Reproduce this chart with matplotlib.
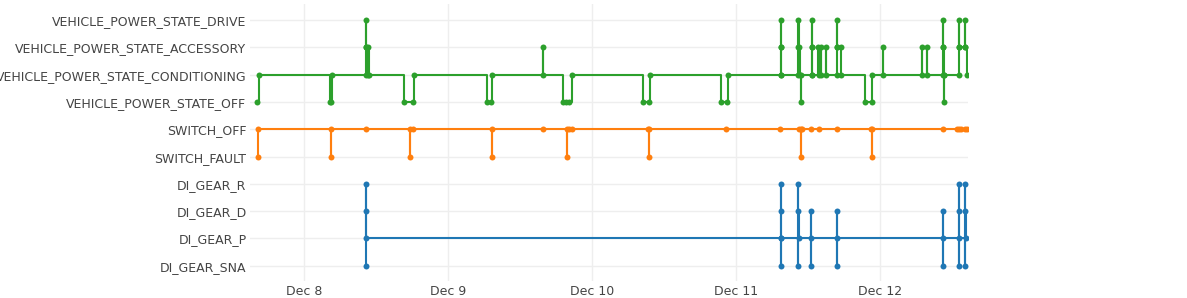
import matplotlib
matplotlib.use("Agg")
import matplotlib.pyplot as plt
import matplotlib.dates as mdates
import pandas as pd

# categories from bottom to top of the y axis
categories = ["DI_GEAR_SNA", "DI_GEAR_P", "DI_GEAR_D", "DI_GEAR_R",
              "SWITCH_FAULT", "SWITCH_OFF",
              "VEHICLE_POWER_STATE_OFF", "VEHICLE_POWER_STATE_CONDITIONING",
              "VEHICLE_POWER_STATE_ACCESSORY", "VEHICLE_POWER_STATE_DRIVE"]

# gear series
gear_times = ["12-08 10:23", "12-08 10:24", "12-08 10:25", "12-08 10:26",
              "12-11 07:30", "12-11 07:31", "12-11 07:32", "12-11 07:33", "12-11 07:34",
              "12-11 10:26", "12-11 10:27", "12-11 10:28", "12-11 10:29",
              "12-11 12:36", "12-11 12:37", "12-11 12:38",
              "12-11 16:50", "12-11 16:51", "12-11 16:52",
              "12-12 10:36", "12-12 10:37", "12-12 10:38",
              "12-12 13:10", "12-12 13:11", "12-12 13:12", "12-12 13:13",
              "12-12 14:16", "12-12 14:17", "12-12 14:18", "12-12 14:19"]
gear_states = ["SNA", "R", "D", "P",
               "P", "SNA", "R", "D", "P",
               "SNA", "R", "D", "P",
               "SNA", "D", "P",
               "SNA", "D", "P",
               "SNA", "D", "P",
               "SNA", "R", "D", "P",
               "SNA", "R", "D", "P"]

# switch series
switch_times = ["12-07 16:20", "12-07 16:21",
                "12-08 04:30", "12-08 04:31",
                "12-08 10:23",
                "12-08 17:43", "12-08 17:44", "12-08 18:10",
                "12-09 07:20", "12-09 07:21",
                "12-09 15:50",
                "12-09 19:50", "12-09 19:51", "12-09 20:15", "12-09 20:40",
                "12-10 09:20", "12-10 09:33", "12-10 09:34",
                "12-10 22:23",
                "12-11 07:26",
                "12-11 10:36", "12-11 10:56", "12-11 10:57", "12-11 11:06",
                "12-11 12:36", "12-11 13:56", "12-11 16:50",
                "12-11 22:30", "12-11 22:43", "12-11 22:44",
                "12-12 10:36",
                "12-12 12:56", "12-12 13:13", "12-12 13:33", "12-12 14:16", "12-12 14:30"]
switch_states = ["FAULT", "OFF",
                 "FAULT", "OFF",
                 "OFF",
                 "FAULT", "OFF", "OFF",
                 "FAULT", "OFF",
                 "OFF",
                 "FAULT", "OFF", "OFF", "OFF",
                 "OFF", "FAULT", "OFF",
                 "OFF",
                 "OFF",
                 "OFF", "FAULT", "OFF", "OFF",
                 "OFF", "OFF", "OFF",
                 "OFF", "FAULT", "OFF",
                 "OFF",
                 "OFF", "OFF", "OFF", "OFF", "OFF"]

# vehicle power state series
power_times = ["12-07 16:16", "12-07 16:30",
               "12-08 04:23", "12-08 04:33", "12-08 04:43",
               "12-08 10:20", "12-08 10:21", "12-08 10:23", "12-08 10:25", "12-08 10:40", "12-08 10:45", "12-08 10:50",
               "12-08 16:43", "12-08 18:10", "12-08 18:26",
               "12-09 06:30", "12-09 07:10", "12-09 07:20",
               "12-09 15:50", "12-09 15:51",
               "12-09 19:10", "12-09 19:43", "12-09 20:13", "12-09 20:40",
               "12-10 08:36", "12-10 09:33", "12-10 09:40",
               "12-10 21:33", "12-10 22:30", "12-10 22:46",
               "12-11 07:29", "12-11 07:30", "12-11 07:31", "12-11 07:32", "12-11 07:33",
               "12-11 10:25", "12-11 10:26", "12-11 10:27", "12-11 10:30", "12-11 10:43", "12-11 10:50", "12-11 10:55",
               "12-11 12:39", "12-11 12:40", "12-11 12:41", "12-11 12:42", "12-11 12:43",
               "12-11 13:46", "12-11 13:56", "12-11 14:10", "12-11 14:11", "12-11 15:03", "12-11 15:04",
               "12-11 16:49", "12-11 16:50", "12-11 16:51", "12-11 16:52", "12-11 17:30", "12-11 17:31",
               "12-11 21:33", "12-11 22:46", "12-11 22:47",
               "12-12 00:30", "12-12 00:31",
               "12-12 07:06", "12-12 07:07", "12-12 07:56", "12-12 07:57",
               "12-12 10:35", "12-12 10:36", "12-12 10:37", "12-12 10:38", "12-12 10:39", "12-12 10:43", "12-12 10:45",
               "12-12 13:09", "12-12 13:10", "12-12 13:11", "12-12 13:12",
               "12-12 14:16", "12-12 14:17", "12-12 14:18", "12-12 14:30"]
power_states = ["OFF", "CONDITIONING",
                "OFF", "OFF", "CONDITIONING",
                "CONDITIONING", "ACCESSORY", "DRIVE", "ACCESSORY", "CONDITIONING", "ACCESSORY", "CONDITIONING",
                "OFF", "OFF", "CONDITIONING",
                "OFF", "OFF", "CONDITIONING",
                "ACCESSORY", "CONDITIONING",
                "OFF", "OFF", "OFF", "CONDITIONING",
                "OFF", "OFF", "CONDITIONING",
                "OFF", "OFF", "CONDITIONING",
                "CONDITIONING", "ACCESSORY", "DRIVE", "ACCESSORY", "CONDITIONING",
                "CONDITIONING", "ACCESSORY", "DRIVE", "ACCESSORY", "CONDITIONING", "OFF", "CONDITIONING",
                "CONDITIONING", "ACCESSORY", "DRIVE", "ACCESSORY", "CONDITIONING",
                "ACCESSORY", "CONDITIONING", "ACCESSORY", "CONDITIONING", "ACCESSORY", "CONDITIONING",
                "CONDITIONING", "ACCESSORY", "DRIVE", "ACCESSORY", "ACCESSORY", "CONDITIONING",
                "OFF", "OFF", "CONDITIONING",
                "ACCESSORY", "CONDITIONING",
                "ACCESSORY", "CONDITIONING", "ACCESSORY", "CONDITIONING",
                "CONDITIONING", "ACCESSORY", "DRIVE", "ACCESSORY", "CONDITIONING", "OFF", "CONDITIONING",
                "CONDITIONING", "ACCESSORY", "DRIVE", "ACCESSORY",
                "ACCESSORY", "DRIVE", "ACCESSORY", "CONDITIONING"]

YEAR = "2023-"

series = [
    (gear_times, ["DI_GEAR_" + s for s in gear_states], "#1f77b4"),
    (switch_times, ["SWITCH_" + s for s in switch_states], "#ff7f0e"),
    (power_times, ["VEHICLE_POWER_STATE_" + s for s in power_states], "#2ca02c"),
]

plt.rcParams["font.family"] = ["DejaVu Sans"]

fig = plt.figure(figsize=(11.87, 2.98), dpi=100)
ax = fig.add_axes([250 / 1187, 1 - 281 / 298, 718 / 1187, 277 / 298])

for times, states, color in series:
    t = pd.to_datetime([YEAR + s for s in times])
    y = [categories.index(s) for s in states]
    ax.plot(t, y, drawstyle="steps-post", color=color, lw=1.5,
            marker="o", markersize=4.3, markeredgewidth=0, zorder=3)

ax.set_xlim(pd.Timestamp(YEAR + "12-07 15:03"), pd.Timestamp(YEAR + "12-12 14:43"))
ax.set_ylim(-0.56, 9.59)

ax.set_yticks(range(len(categories)))
ax.set_yticklabels(categories)

ax.xaxis.set_major_locator(mdates.DayLocator())
ax.xaxis.set_major_formatter(plt.FuncFormatter(
    lambda v, p: mdates.num2date(v).strftime("%b ") + str(mdates.num2date(v).day)))

ax.grid(True, color="#eeeeee", lw=1, zorder=0)
ax.set_axisbelow(True)
for sp in ax.spines.values():
    sp.set_visible(False)
ax.tick_params(axis="both", length=0, labelsize=9, labelcolor="#444444")
ax.tick_params(axis="y", pad=2.5)
ax.tick_params(axis="x", pad=3)

fig.savefig("out.png", dpi=100)
